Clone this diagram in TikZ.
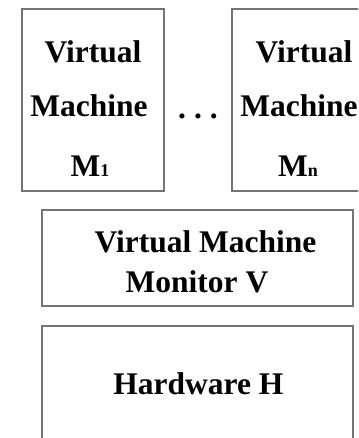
\documentclass[tikz,border=0pt]{standalone}
\usepackage{fontspec}
\setmainfont{Liberation Serif}
\begin{document}
\begin{tikzpicture}[x=1pt,y=-1pt,
  layer/.style={draw=black!55, line width=1.3pt, inner sep=0pt},
  lbl/.style={anchor=base, inner sep=0pt, font=\fontsize{31.5}{31.5}\selectfont\bfseries},
  sub/.style={font=\fontsize{18}{18}\selectfont\bfseries}]
\clip (0,0) rectangle (358,438);
\fill[white] (0,0) rectangle (358,438);

% guest machines
\node[layer, minimum width=142pt, minimum height=182pt] (m1) at (93,100) {};
\node[layer, minimum width=142pt, minimum height=182pt] (mn) at (303,100) {};
\node[lbl] (m1a) at (93,63) {Virtual};
\node[lbl] (m1b) at (89,117) {Machine};
\node[lbl] (m1c) at (90,177) {M{\fontsize{18}{18}\selectfont 1}};
\node[lbl] (mna) at (304,63) {Virtual};
\node[lbl] (mnb) at (299,117) {Machine};
\node[lbl] (mnc) at (298,177) {M{\fontsize{18}{18}\selectfont n}};
\node[lbl] (dots) at (198,118.5) {.\hspace{8pt}.\hspace{8pt}.};

% monitor layer
\node[layer, minimum width=311pt, minimum height=96pt] (vmm) at (197.5,258) {};
\node[lbl] (vmma) at (205.5,252) {Virtual Machine};
\node[lbl] (vmmb) at (197,292) {Monitor V};

% hardware layer
\node[layer, minimum width=311pt, minimum height=124pt] (hw) at (197.5,388) {};
\node[lbl] (hwa) at (198.5,394) {Hardware H};
\end{tikzpicture}
\end{document}
